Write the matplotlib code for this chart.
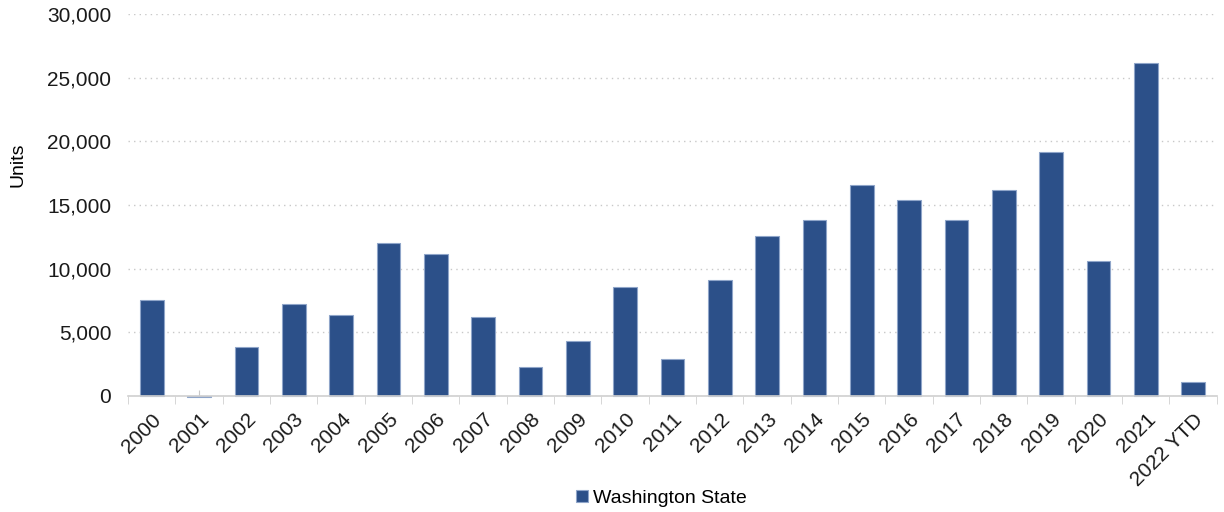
import matplotlib
matplotlib.use('Agg')
import numpy as np
from matplotlib import pyplot as plt
from matplotlib.ticker import FuncFormatter

years = ['2000', '2001', '2002', '2003', '2004', '2005', '2006', '2007', '2008', '2009',
         '2010', '2011', '2012', '2013', '2014', '2015', '2016', '2017', '2018', '2019',
         '2020', '2021', '2022 YTD']
units = [7530, -100, 3870, 7260, 6350, 12030, 11180, 6240, 2290, 4320,
         8550, 2870, 9130, 12550, 13790, 16530, 15400, 13840, 16210, 19130,
         10630, 26180, 1100]
series_name = 'Washington State'

plt.rcParams['font.family'] = ['Liberation Sans', 'DejaVu Sans']

fig = plt.figure(figsize=(12.24, 5.12), dpi=100)
ax = fig.add_axes([0.1046, 0.2266, 0.8895, 0.7461])

x = np.arange(len(years))
ax.bar(x, units, width=0.5, color='#2c5089', edgecolor='#8fa5c9', linewidth=0.8,
       label=series_name, zorder=2, clip_on=False)

ax.set_xlim(-0.5, len(years) - 0.5)
ax.set_ylim(0, 30000)
ax.set_yticks(np.arange(0, 30001, 5000))
ax.yaxis.set_major_formatter(FuncFormatter(lambda v, p: f'{int(v):,}'))
ax.grid(axis='y', linestyle=(0, (1, 3)), color='#c8c8c8', linewidth=1, zorder=0)
ax.tick_params(axis='y', length=0, labelsize=15, pad=12, labelcolor='#1a1a1a')

ax.set_xticks(x)
ax.set_xticklabels(years, rotation=45, ha='right', rotation_mode='anchor', fontsize=15)
ax.tick_params(axis='x', which='major', direction='in', length=4, color='#c8c8c8',
               pad=10, labelcolor='#1a1a1a')
ax.set_xticks(np.arange(-0.5, len(years)), minor=True)
ax.tick_params(axis='x', which='minor', direction='out', length=6, color='#d0d0d0')

for side in ['top', 'right', 'left']:
    ax.spines[side].set_visible(False)
ax.spines['bottom'].set_color('#d0d0d0')
ax.spines['bottom'].set_linewidth(1.2)

ax.set_ylabel('Units', fontsize=14)
ax.yaxis.set_label_coords(-0.093, 0.605)

ax.legend(loc='upper center', bbox_to_anchor=(0.49, -0.2), frameon=False, fontsize=14,
          handlelength=0.6, handleheight=0.6, handletextpad=0.3)

fig.savefig('out.png', dpi=100)
